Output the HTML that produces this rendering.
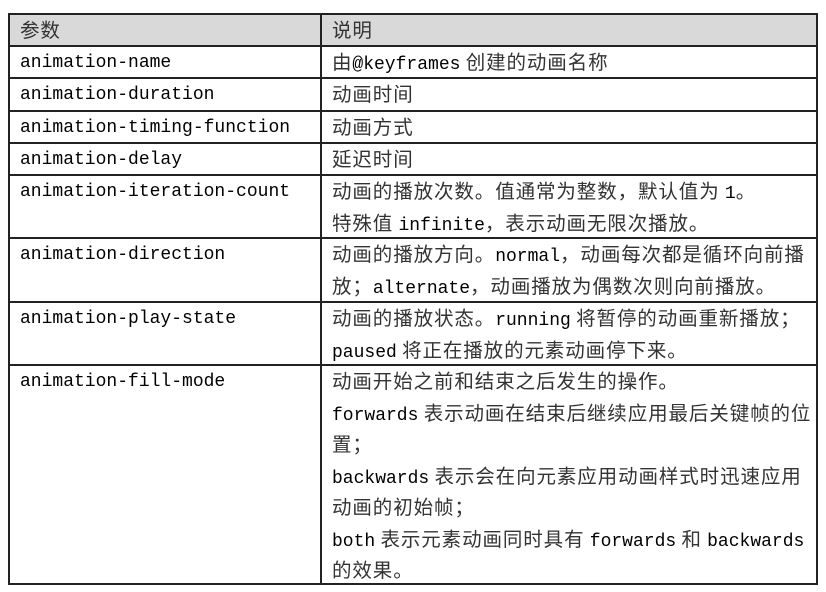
<!DOCTYPE html>
<html><head><meta charset="utf-8"><style>
body{margin:0;width:826px;height:592px;background:#fff;position:relative;overflow:hidden;font-family:"Liberation Sans","Noto Sans CJK SC",sans-serif;color:#111;}
.h{position:absolute;background:#222;height:1.5px;}
.v{position:absolute;background:#222;width:1.5px;}
.t{position:absolute;font-size:19.5px;white-space:nowrap;}
.t div{height:31.5px;line-height:31.5px;}
.m{font-family:"Liberation Mono",monospace;font-size:18px;color:#000;line-height:1;}
.c{font-family:"Noto Sans CJK SC",sans-serif;color:#333;letter-spacing:0.9px;}
.c .m{letter-spacing:0;}
.l{margin-top:2px;}
</style></head><body>
<div style="position:absolute;left:9px;top:13px;width:808px;height:32px;background:#d9d9d9"></div>
<div class="h" style="left:8px;top:13px;width:810px"></div>
<div class="h" style="left:8px;top:45px;width:810px"></div>
<div class="h" style="left:8px;top:77px;width:810px"></div>
<div class="h" style="left:8px;top:110px;width:810px"></div>
<div class="h" style="left:8px;top:142px;width:810px"></div>
<div class="h" style="left:8px;top:174px;width:810px"></div>
<div class="h" style="left:8px;top:237px;width:810px"></div>
<div class="h" style="left:8px;top:301px;width:810px"></div>
<div class="h" style="left:8px;top:364px;width:810px"></div>
<div class="h" style="left:8px;top:583px;width:810px"></div>
<div class="v" style="left:8px;top:13px;height:571px"></div>
<div class="v" style="left:320px;top:13px;height:571px"></div>
<div class="v" style="left:816px;top:13px;height:571px"></div>

<div class="t c" style="left:20px;top:13px"><div>参数</div></div>
<div class="t c" style="left:332px;top:13px"><div>说明</div></div>

<div class="t m" style="left:20px;top:48px"><div>animation-name</div></div>
<div class="t m" style="left:20px;top:80px"><div>animation-duration</div></div>
<div class="t m" style="left:20px;top:113px"><div>animation-timing-function</div></div>
<div class="t m" style="left:20px;top:145px"><div>animation-delay</div></div>
<div class="t m" style="left:20px;top:177px"><div>animation-iteration-count</div></div>
<div class="t m" style="left:20px;top:240px"><div>animation-direction</div></div>
<div class="t m" style="left:20px;top:304px"><div>animation-play-state</div></div>
<div class="t m" style="left:20px;top:367px"><div>animation-fill-mode</div></div>

<div class="t c" style="left:332px;top:45px"><div>由<span class="m">@keyframes</span> 创建的动画名称</div></div>
<div class="t c" style="left:332px;top:77px"><div>动画时间</div></div>
<div class="t c" style="left:332px;top:110px"><div>动画方式</div></div>
<div class="t c" style="left:332px;top:142px"><div>延迟时间</div></div>
<div class="t c" style="left:332px;top:174px"><div>动画的播放次数。值通常为整数，默认值为 <span class="m">1</span>。</div><div>特殊值 <span class="m">infinite</span>，表示动画无限次播放。</div></div>
<div class="t c" style="left:332px;top:237px"><div>动画的播放方向。<span class="m">normal</span>，动画每次都是循环向前播</div><div>放；<span class="m">alternate</span>，动画播放为偶数次则向前播放。</div></div>
<div class="t c" style="left:332px;top:301px"><div>动画的播放状态。<span class="m">running</span> 将暂停的动画重新播放；</div><div><span class="m">paused</span> 将正在播放的元素动画停下来。</div></div>
<div class="t c" style="left:332px;top:364px"><div>动画开始之前和结束之后发生的操作。</div><div><span class="m">forwards</span> 表示动画在结束后继续应用最后关键帧的位</div><div>置；</div><div><span class="m">backwards</span> 表示会在向元素应用动画样式时迅速应用</div><div>动画的初始帧；</div><div><span class="m">both</span> 表示元素动画同时具有 <span class="m">forwards</span> 和 <span class="m">backwards</span></div><div>的效果。</div></div>
</body></html>
